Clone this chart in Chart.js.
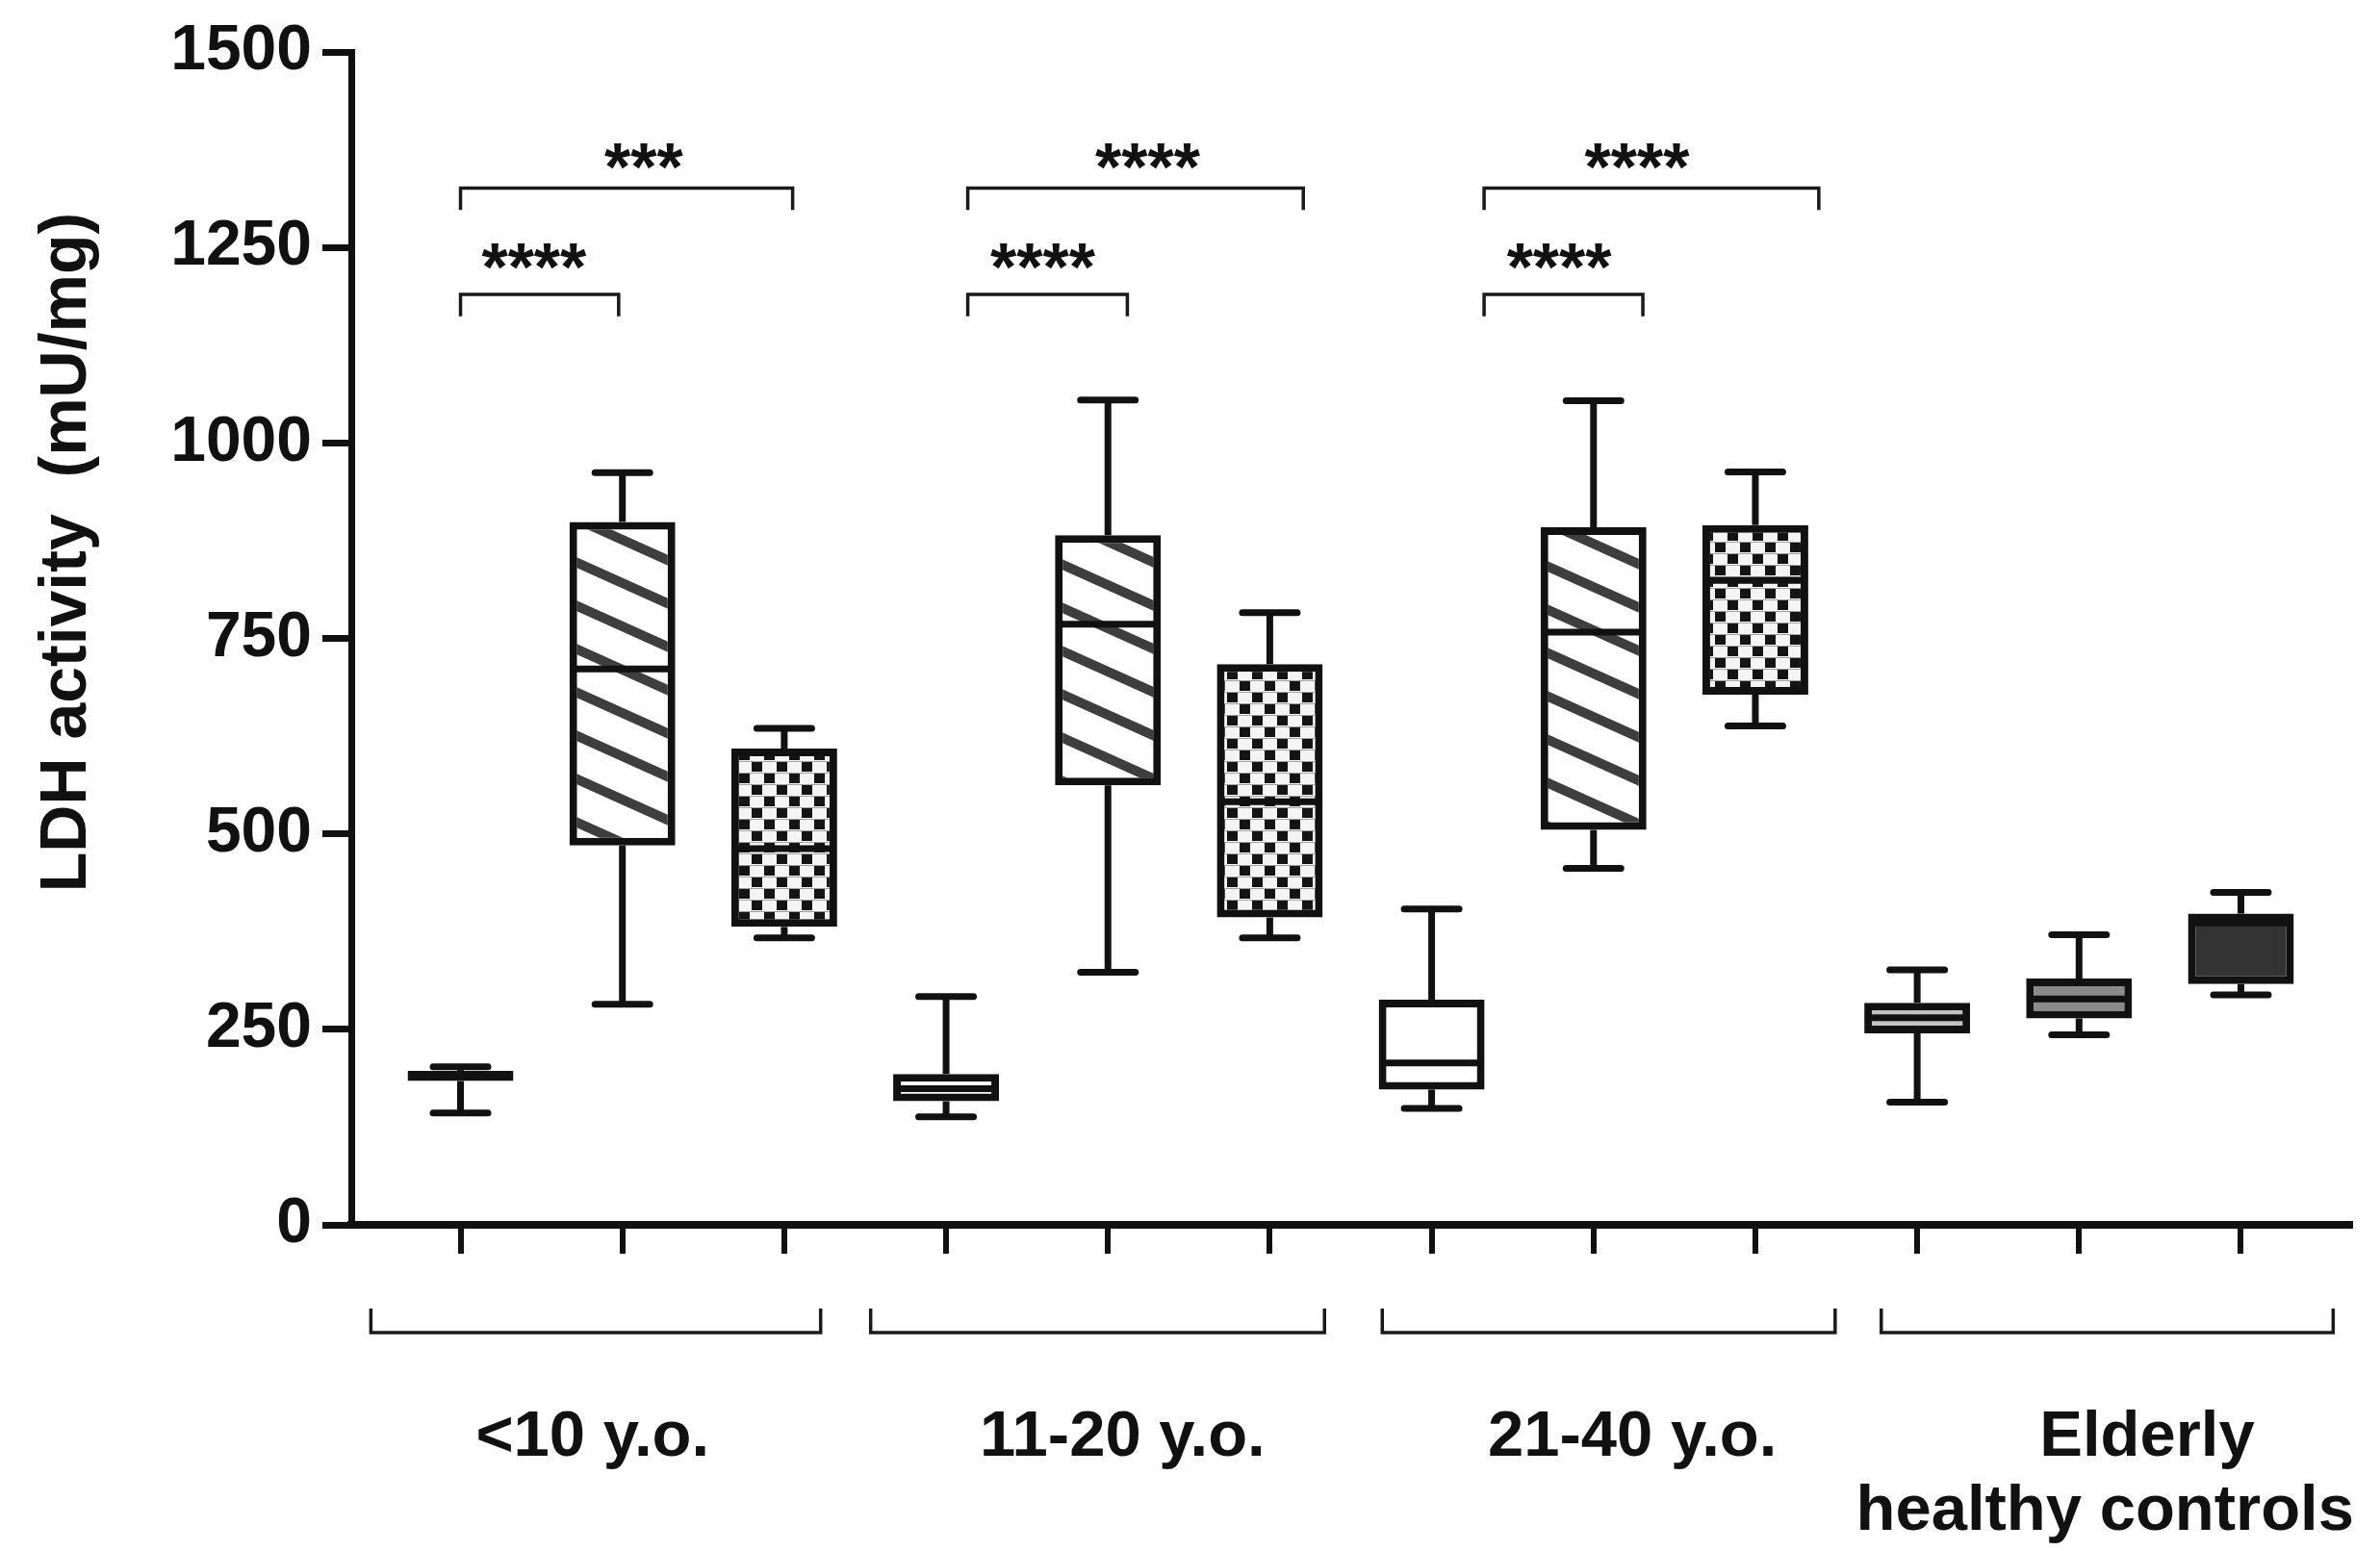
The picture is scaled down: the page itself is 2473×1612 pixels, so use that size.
<!DOCTYPE html>
<html>
<head>
<meta charset="utf-8">
<title>LDH activity by age group</title>
<script src="https://cdn.jsdelivr.net/npm/chart.js@4.4.1/dist/chart.umd.min.js"></script>
<style>
  html, body { margin: 0; padding: 0; background: #ffffff; overflow: hidden; }
  #wrap { width: 2473px; height: 1612px; }
</style>
</head>
<body>
<div id="wrap"><canvas id="chart" width="2473" height="1612"></canvas></div>
<script>
// ---- Data -------------------------------------------------------------
// Box positions on the x axis (three boxes per age group)
const boxPositions = [1, 2, 3, 4, 5, 6, 7, 8, 9, 10, 11, 12];

// Five-number summaries of LDH activity (mU/mg) for each box
const whiskerHigh = [202, 962, 635, 292, 1055, 783, 404, 1054, 963, 326, 371, 425];
const upperQuartile = [197, 899, 609, 193, 882, 717, 288, 892, 895, 284, 315, 398];
const medianValues = [190, 711, 481, 174, 768, 541, 207, 758, 824, 265, 289, 386];
const lowerQuartile = [184, 485, 381, 158, 562, 393, 173, 505, 678, 245, 264, 308];
const whiskerLow = [143, 282, 367, 138, 323, 367, 149, 456, 638, 157, 243, 294];

// Age group captions shown under the axis
const groupLabels = [['<10 y.o.'], ['11-20 y.o.'], ['21-40 y.o.'], ['Elderly', 'healthy controls']];

// Y axis tick values
const yTickValues = [0, 250, 500, 750, 1000, 1250, 1500];

// Significance comparisons: star label, bracket start / end box position, bracket level (mU/mg)
const sigLabels = ['***', '****', '****', '****', '****', '****'];
const sigFrom = [1.0, 1.0, 4.134, 4.134, 7.324, 7.324];
const sigTo = [3.052, 1.977, 6.207, 5.12, 9.392, 8.305];
const sigLevel = [1326, 1190, 1326, 1190, 1326, 1190];

// ---- Layout / style ---------------------------------------------------
const FONT = "'Liberation Sans', Arial, Helvetica, sans-serif";
const INK = '#111111';
const boxFillKinds = ['white', 'hatch', 'checker', 'white', 'hatch', 'checker',
                      'white', 'hatch', 'checker', 'light', 'mid', 'dark'];
const sigStarX = [2.132, 1.454, 5.245, 4.597, 8.269, 7.788];
const sigStarLevel = [1366, 1238, 1366, 1238, 1366, 1238];
const groupBracketFrom = [0.446, 3.534, 6.695, 9.778];
const groupBracketTo = [3.225, 6.338, 9.493, 12.57];
const groupLabelX = [[1.816], [5.09], [8.24], [11.42, 11.16]];

function makeHatch() {
  const c = document.createElement('canvas');
  c.width = 100; c.height = 45;
  const g = c.getContext('2d');
  g.fillStyle = '#ffffff';
  g.fillRect(0, 0, 100, 45);
  g.strokeStyle = '#3e3e3e';
  g.lineWidth = 10;
  for (const off of [-45, 0, 45]) {
    g.beginPath();
    g.moveTo(-10, off - 4.5);
    g.lineTo(110, off + 49.5);
    g.stroke();
  }
  return g.createPattern(c, 'repeat');
}

function makeChecker() {
  const c = document.createElement('canvas');
  c.width = 26; c.height = 24;
  const g = c.getContext('2d');
  g.fillStyle = '#f4f4f4';
  g.fillRect(0, 0, 26, 24);
  g.fillStyle = '#a0a0a0';
  g.fillRect(0, 11, 26, 1);
  g.fillRect(0, 23, 26, 1);
  g.fillStyle = '#141414';
  g.fillRect(1, 0, 11, 10);
  g.fillRect(14, 12, 11, 10);
  return g.createPattern(c, 'repeat');
}

const fills = {
  white: '#ffffff',
  hatch: makeHatch(),
  checker: makeChecker(),
  light: '#c2c2c2',
  mid: '#8a8a8a',
  dark: '#333333'
};

function strokeLine(ctx, x1, y1, x2, y2) {
  ctx.beginPath();
  ctx.moveTo(x1, y1);
  ctx.lineTo(x2, y2);
  ctx.stroke();
}

// Whiskers, caps, medians, comparison brackets, group captions and the axis title
const boxPlotDecor = {
  id: 'boxPlotDecor',
  afterDatasetsDraw(chart) {
    const { ctx, scales: { x, y } } = chart;
    const meta = chart.getDatasetMeta(0);
    ctx.save();
    ctx.strokeStyle = INK;
    boxPositions.forEach((p, i) => {
      const px = x.getPixelForValue(p);
      const yHi = y.getPixelForValue(whiskerHigh[i]);
      const yQ3 = y.getPixelForValue(upperQuartile[i]);
      const yMed = y.getPixelForValue(medianValues[i]);
      const yQ1 = y.getPixelForValue(lowerQuartile[i]);
      const yLo = y.getPixelForValue(whiskerLow[i]);
      const half = meta.data[i].width / 2;

      ctx.lineWidth = 7;
      ctx.lineCap = 'butt';
      strokeLine(ctx, px, yQ3, px, yHi);
      strokeLine(ctx, px, yQ1, px, yLo);
      strokeLine(ctx, px - half + 1, yMed, px + half - 1, yMed);

      ctx.lineCap = 'round';
      strokeLine(ctx, px - 28.5, yHi, px + 28.5, yHi);
      strokeLine(ctx, px - 28.5, yLo, px + 28.5, yLo);
    });
    ctx.restore();
  },
  afterDraw(chart) {
    const { ctx, chartArea, scales: { x, y } } = chart;
    ctx.save();

    // Significance brackets with stars
    ctx.strokeStyle = '#1a1a1a';
    ctx.lineWidth = 3.5;
    ctx.lineCap = 'butt';
    const drop = y.getPixelForValue(0) - y.getPixelForValue(28);
    sigLabels.forEach((label, i) => {
      const x1 = x.getPixelForValue(sigFrom[i]);
      const x2 = x.getPixelForValue(sigTo[i]);
      const yl = y.getPixelForValue(sigLevel[i]);
      ctx.beginPath();
      ctx.moveTo(x1, yl + drop);
      ctx.lineTo(x1, yl);
      ctx.lineTo(x2, yl);
      ctx.lineTo(x2, yl + drop);
      ctx.stroke();

      ctx.font = `bold 70px ${FONT}`;
      ctx.fillStyle = '#111111';
      ctx.textAlign = 'center';
      ctx.textBaseline = 'alphabetic';
      const m = ctx.measureText(label);
      const cy = y.getPixelForValue(sigStarLevel[i]);
      const base = cy - (m.actualBoundingBoxDescent - m.actualBoundingBoxAscent) / 2;
      ctx.fillText(label, x.getPixelForValue(sigStarX[i]), base);
    });

    // Group brackets below the x axis
    ctx.lineWidth = 3.5;
    ctx.strokeStyle = '#1a1a1a';
    const by = chartArea.bottom + 112;
    groupBracketFrom.forEach((from, i) => {
      const x1 = x.getPixelForValue(from);
      const x2 = x.getPixelForValue(groupBracketTo[i]);
      ctx.beginPath();
      ctx.moveTo(x1, by - 25);
      ctx.lineTo(x1, by);
      ctx.lineTo(x2, by);
      ctx.lineTo(x2, by - 25);
      ctx.stroke();
    });

    // Group captions
    ctx.fillStyle = '#111111';
    ctx.font = `bold 67px ${FONT}`;
    ctx.textAlign = 'center';
    ctx.textBaseline = 'alphabetic';
    groupLabels.forEach((lines, i) => {
      lines.forEach((text, j) => {
        ctx.fillText(text, x.getPixelForValue(groupLabelX[i][j]), chartArea.bottom + 240 + j * 77);
      });
    });

    // Y axis title
    ctx.translate(70, 574);
    ctx.rotate(-Math.PI / 2);
    ctx.font = `bold 68px ${FONT}`;
    ctx.textAlign = 'center';
    ctx.textBaseline = 'middle';
    ctx.fillText('LDH activity  (mU/mg)', 0, 0);
    ctx.restore();
  }
};

new Chart(document.getElementById('chart'), {
  type: 'bar',
  data: {
    datasets: [{
      label: 'LDH activity',
      data: boxPositions.map((p, i) => ({ x: p, y: [lowerQuartile[i], upperQuartile[i]] })),
      backgroundColor: boxFillKinds.map(k => fills[k]),
      borderColor: INK,
      borderWidth: 8,
      borderSkipped: false,
      barPercentage: 0.654,
      categoryPercentage: 1
    }]
  },
  options: {
    responsive: false,
    devicePixelRatio: 1,
    animation: false,
    events: [],
    layout: { padding: { top: 54, right: 31, bottom: 0, left: 0 } },
    plugins: {
      legend: { display: false },
      tooltip: { enabled: false },
      title: { display: false }
    },
    scales: {
      x: {
        type: 'linear',
        min: 0.325,
        max: 12.675,
        offset: false,
        afterBuildTicks: (scale) => { scale.ticks = boxPositions.map(v => ({ value: v })); },
        afterFit: (scale) => { scale.height = 339; },
        ticks: { stepSize: 1, maxTicksLimit: 20, includeBounds: false, autoSkip: false, callback: () => '' },
        grid: { display: true, offset: false, drawOnChartArea: false, drawTicks: true, tickLength: 30, tickWidth: 6, tickColor: INK, color: INK, lineWidth: 6 },
        border: { display: true, color: INK, width: 8 }
      },
      y: {
        type: 'linear',
        min: 0,
        max: 1500,
        afterBuildTicks: (scale) => { scale.ticks = yTickValues.map(v => ({ value: v })); },
        afterFit: (scale) => { scale.width = 365; },
        ticks: {
          stepSize: 250,
          padding: 11,
          color: '#111111',
          font: { family: FONT, size: 66, weight: 'bold' },
          callback: (v) => String(v)
        },
        grid: { display: true, drawOnChartArea: false, drawTicks: true, tickLength: 30, tickWidth: 7, tickColor: INK, color: INK, lineWidth: 7 },
        border: { display: true, color: INK, width: 7 }
      }
    }
  },
  plugins: [boxPlotDecor]
});
</script>
</body>
</html>
